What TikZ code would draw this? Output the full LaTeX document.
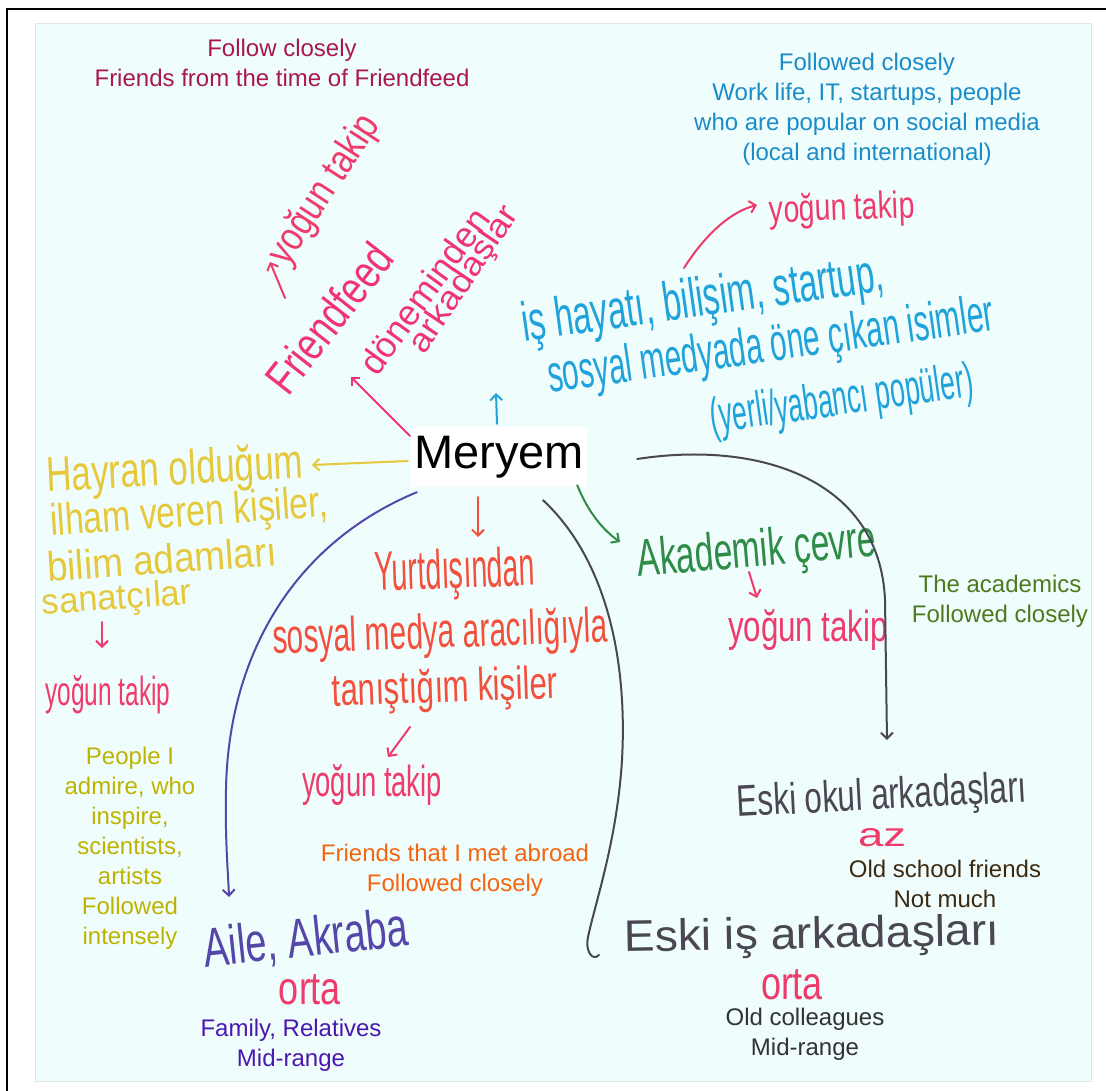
\documentclass[tikz,border=0pt]{standalone}
\usepackage{fontspec}
\usepackage{graphicx}
\setmainfont{Liberation Sans}
\newfontfamily\hwfont[FakeStretch=0.75]{Liberation Sans}
\usetikzlibrary{arrows.meta,calc}
\definecolor{crimson}{HTML}{A8174F}
\definecolor{pinkhw}{HTML}{F0327A}
\definecolor{pinkyt}{HTML}{EE3B6B}
\definecolor{bluehw}{HTML}{1FA3DA}
\definecolor{bluetx}{HTML}{1A8CC8}
\definecolor{yelhw}{HTML}{E6C83C}
\definecolor{olivetx}{HTML}{BDB300}
\definecolor{redhw}{HTML}{F2503C}
\definecolor{orangetx}{HTML}{F5640F}
\definecolor{purpleln}{HTML}{5546AA}
\definecolor{purpletx}{HTML}{4A17B0}
\definecolor{darkln}{HTML}{4A4652}
\definecolor{greenhw}{HTML}{2E8C46}
\definecolor{greentx}{HTML}{4E7A1E}
\definecolor{browntx}{HTML}{3C2A10}
\definecolor{graytx}{HTML}{333333}
\definecolor{bgcol}{HTML}{F0FDFD}
\definecolor{edgecol}{HTML}{E0E6E6}
% handwritten text: width, ascender height, text
\newcommand\hwb[3]{\resizebox{#1pt}{#2pt}{\hwfont #3}}
\begin{document}
\begin{tikzpicture}[x=1pt,y=-1pt,
  typed/.style={font=\fontsize{24}{30}\selectfont, align=center, inner sep=0pt},
  hw/.style={inner sep=0pt},
  conn/.style={line width=2pt, line cap=round, line join=round},
  tip/.style={-{Straight Barb[length=6pt,width=12pt]}}]
\useasboundingbox (0,0) rectangle (1106,1091);
% frame
\fill[white] (0,0) rectangle (1106,1091);
\draw[line width=1.5pt, black] (7,1091) -- (7,9) -- (1106,9);
\draw[fill=bgcol, draw=edgecol, line width=1pt] (35,24) rectangle (1091,1081);

% typed translations
\node[typed, text=crimson] (tTop) at (282,63) {Follow closely\\Friends from the time of Friendfeed};
\node[typed, text=bluetx] (tWork) at (867,109) {Followed closely\\Work life, IT, startups, people\\who are popular on social media\\(local and international)};
\node[typed, text=olivetx] (tAdm) at (130,848) {People I\\admire, who\\inspire,\\scientists,\\artists\\Followed\\intensely};
\node[typed, text=orangetx] (tAbr) at (455,870) {Friends that I met abroad\\Followed closely};
\node[typed, text=purpletx] (tFam) at (291,1045) {Family, Relatives\\Mid-range};
\node[typed, text=greentx] (tAca) at (1000,601) {The academics\\Followed closely};
\node[typed, text=browntx] (tSch) at (945,884) {Old school friends\\Not much};
\node[typed, text=graytx] (tCol) at (805,1034) {Old colleagues\\Mid-range};

% centre
\node[fill=white, inner sep=0pt, minimum width=176pt, minimum height=60pt,
      font=\fontsize{47}{50}\selectfont] (meryem) at (499,457) {Meryem};

% Friendfeed group
\node[hw, rotate=57, text=pinkyt] (ff1) at (325,190) {\hwb{170}{30}{yoğun takip}};
\node[hw, rotate=52, text=pinkhw] (ff2) at (329,318) {\hwb{175}{34}{Friendfeed}};
\node[hw, rotate=54, text=pinkhw] (ff3) at (424,291) {\hwb{195}{26}{döneminden}};
\node[hw, rotate=56, text=pinkhw] (ff4) at (465,280) {\hwb{170}{24}{arkadaşlar}};

% blue group
\node[hw, rotate=8, text=bluehw] (b1) at (703,302) {\hwb{365}{40}{iş hayatı, bilişim, startup,}};
\node[hw, rotate=8, text=bluehw] (b2) at (771,348) {\hwb{450}{38}{sosyal medyada öne çıkan isimler}};
\node[hw, rotate=8, text=bluehw] (b3) at (842,402) {\hwb{265}{36}{(yerli/yabancı popüler)}};
\node[hw, rotate=2, text=pinkyt] (byt) at (842,210) {\hwb{145}{28}{yoğun takip}};

% yellow group
\node[hw, rotate=3, text=yelhw] (y1) at (175,472) {\hwb{257}{36}{Hayran olduğum}};
\node[hw, rotate=4, text=yelhw] (y2) at (189,515) {\hwb{278}{32}{ilham veren kişiler,}};
\node[hw, rotate=4, text=yelhw] (y3) at (162,559) {\hwb{230}{30}{bilim adamları}};
\node[hw, rotate=4, text=yelhw] (y4) at (117,600) {\hwb{150}{26}{sanatçılar}};
\node[hw, text=pinkyt] (yyt) at (108,695) {\hwb{125}{30}{yoğun takip}};

% red group
\node[hw, rotate=2, text=redhw] (r1) at (455,574) {\hwb{160}{40}{Yurtdışından}};
\node[hw, rotate=2, text=redhw] (r2) at (440,635) {\hwb{335}{36}{sosyal medya aracılığıyla}};
\node[hw, rotate=2, text=redhw] (r3) at (445,690) {\hwb{225}{34}{tanıştığım kişiler}};
\node[hw, text=pinkyt] (ryt) at (372,785) {\hwb{140}{32}{yoğun takip}};

% family
\node[hw, rotate=6, text=purpleln] (fam) at (306,940) {\hwb{205}{40}{Aile, Akraba}};
\node[hw, text=pinkyt] (famo) at (310,990) {\hwb{62}{30}{orta}};

% academic
\node[hw, rotate=5, text=greenhw] (aca) at (757,553) {\hwb{240}{38}{Akademik çevre}};
\node[hw, text=pinkyt] (acayt) at (808,630) {\hwb{160}{32}{yoğun takip}};

% school / colleagues
\node[hw, rotate=3, text=darkln] (sch) at (882,798) {\hwb{290}{32}{Eski okul arkadaşları}};
\node[hw, text=pinkyt] (scha) at (882,838) {\hwb{48}{18}{az}};
\node[hw, rotate=1, text=darkln] (col) at (812,937) {\hwb{375}{32}{Eski iş arkadaşları}};
\node[hw, text=pinkyt] (colo) at (792,985) {\hwb{62}{30}{orta}};

% named coordinates for connector ends
\coordinate (cBlue) at (496,393);
\coordinate (cFF) at (351,377);
\coordinate (cFFup0) at (285,298);
\coordinate (cFFup) at (270,262);
\coordinate (cYel) at (312,465);
\coordinate (cYyt0) at (102,622);
\coordinate (cYyt) at (102,648);
\coordinate (cRed) at (478,537);
\coordinate (cRyt0) at (410,727);
\coordinate (cRyt) at (388,757);
\coordinate (cFam) at (229,897);
\coordinate (cMid) at (588,937);
\coordinate (cGreen) at (620,542);
\coordinate (cAyt0) at (749,572);
\coordinate (cAyt) at (757,598);
\coordinate (cSch) at (887,740);
\coordinate (cByt0) at (684,268);
\coordinate (cByt) at (757,205);

% connectors
\draw[conn, tip, bluehw] ($(meryem.north)+(-2,-3)$) -- (cBlue);
\draw[conn, tip, pinkhw] ($(meryem.north west)+(-1,9)$) -- (cFF);
\draw[conn, tip, pinkyt] (cFFup0) -- (cFFup);
\draw[conn, tip, yelhw] ($(meryem.west)+(-3,4)$) -- (cYel);
\draw[conn, tip, pinkyt] (cYyt0) -- (cYyt);
\draw[conn, tip, redhw] ($(meryem.south)+(-21,10)$) -- (cRed);
\draw[conn, tip, pinkyt] (cRyt0) -- (cRyt);
\draw[conn, tip, purpleln] ($(meryem.south west)+(6,5)$)
   .. controls (290,545) and (228,660) .. (226,790)
   .. controls (225,840) and (228,870) .. (cFam);
\draw[conn, darkln] ($(meryem.south)+(44,13)$)
   .. controls (602,555) and (628,650) .. (622,760)
   .. controls (617,840) and (596,900) .. (cMid)
   .. controls (585,950) and (592,962) .. (599,955);
\draw[conn, tip, greenhw] ($(meryem.south east)+(-10,-2)$)
   .. controls (588,512) and (603,530) .. (cGreen);
\draw[conn, tip, pinkyt] (cAyt0) -- (cAyt);
\draw[conn, tip, darkln] ($(meryem.east)+(50,2)$)
   .. controls (760,440) and (880,480) .. (885,600) -- (cSch);
\draw[conn, tip, pinkyt] (cByt0) .. controls (705,235) and (730,212) .. (cByt);
\end{tikzpicture}
\end{document}
